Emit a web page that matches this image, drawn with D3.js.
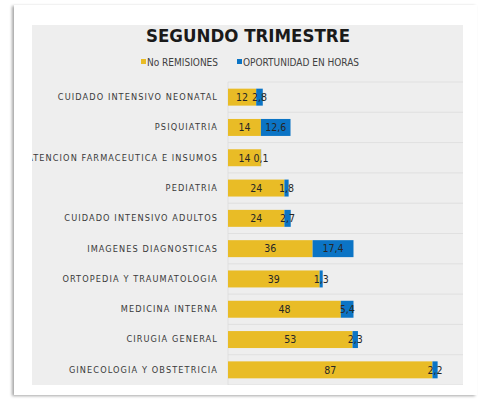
<!DOCTYPE html>
<html>
<head>
<meta charset="utf-8">
<script src="https://cdn.jsdelivr.net/npm/d3@7"></script>
<style>
  body { margin: 0; background: #fff; }
  svg { display: block; }
</style>
</head>
<body>
<svg id="chart" width="480" height="400"></svg>
<script>
// categories top to bottom
const categories = [
  "CUIDADO INTENSIVO NEONATAL",
  "PSIQUIATRIA",
  "ATENCION FARMACEUTICA E INSUMOS",
  "PEDIATRIA",
  "CUIDADO INTENSIVO ADULTOS",
  "IMAGENES DIAGNOSTICAS",
  "ORTOPEDIA Y TRAUMATOLOGIA",
  "MEDICINA INTERNA",
  "CIRUGIA GENERAL",
  "GINECOLOGIA Y OBSTETRICIA"
]
const remisiones = [12, 14, 14, 24, 24, 36, 39, 48, 53, 87]
const oportunidad = [2.8, 12.6, 0.1, 1.8, 2.7, 17.4, 1.3, 5.4, 2.3, 2.2]
const seriesNames = ["No REMISIONES", "OPORTUNIDAD EN HORAS"]
const colors = ["#E9BC26", "#0B74C5"]

const svg = d3.select("#chart")
const font = "DejaVu Sans, Verdana, sans-serif"
const condensed = "DejaVu Sans Condensed, DejaVu Sans, sans-serif"

// card with soft shadow
const defs = svg.append("defs")
const f = defs.append("filter").attr("id", "shadow")
  .attr("x", "-5%").attr("y", "-5%").attr("width", "110%").attr("height", "110%")
f.append("feDropShadow").attr("dx", -2).attr("dy", 1).attr("stdDeviation", 1.6)
  .attr("flood-color", "#000").attr("flood-opacity", 0.35)

svg.append("rect")
  .attr("x", 14).attr("y", 5).attr("width", 463).attr("height", 390)
  .attr("fill", "#fff").attr("filter", "url(#shadow)")

// grey chart area
const area = {x: 32, y: 25, w: 431, h: 360}
svg.append("rect")
  .attr("x", area.x).attr("y", area.y).attr("width", area.w).attr("height", area.h)
  .attr("fill", "#EEEEEE")

defs.append("clipPath").attr("id", "areaClip")
  .append("rect")
  .attr("x", area.x).attr("y", area.y).attr("width", area.w).attr("height", area.h)

const g = svg.append("g").attr("clip-path", "url(#areaClip)")

// title
g.append("text")
  .attr("x", 248).attr("y", 42)
  .attr("text-anchor", "middle")
  .attr("font-family", condensed).attr("font-weight", "bold")
  .attr("font-size", 18.5)
  .attr("fill", "#1a1a1a")
  .text("SEGUNDO TRIMESTRE")

// legend
const legendX = [141, 237]
const leg = g.selectAll("g.leg").data(seriesNames).join("g")
  .attr("class", "leg")
  .attr("transform", (d, i) => `translate(${legendX[i]},62)`)
leg.append("rect")
  .attr("x", 0).attr("y", -3).attr("width", 5).attr("height", 5)
  .attr("fill", (d, i) => colors[i])
leg.append("text")
  .attr("x", 6).attr("y", 0).attr("dy", "0.35em")
  .attr("font-family", condensed).attr("font-size", 10)
  .attr("fill", "#404040")
  .text(d => d)

// scales
const x = d3.scaleLinear().domain([0, 100]).range([228, 463])
const y = d3.scaleBand().domain(categories).range([82, 385]).paddingInner(0.44).paddingOuter(0.22)

// gridlines between categories
const rowH = 303 / categories.length
g.selectAll("line.grid").data(d3.range(categories.length + 1)).join("line")
  .attr("x1", 228).attr("x2", 463)
  .attr("y1", i => 82 + i * rowH)
  .attr("y2", i => 82 + i * rowH)
  .attr("stroke", "#dcdcdc").attr("stroke-width", 0.8)
g.append("line")
  .attr("x1", 228).attr("x2", 228).attr("y1", 82).attr("y2", 385)
  .attr("stroke", "#dcdcdc").attr("stroke-width", 0.8)

// category labels
g.selectAll("text.cat").data(categories).join("text")
  .attr("class", "cat")
  .attr("x", 218)
  .attr("y", d => y(d) + y.bandwidth() / 2)
  .attr("dy", "0.35em")
  .attr("text-anchor", "end")
  .attr("font-family", font).attr("font-size", 8.2)
  .attr("letter-spacing", 1.1)
  .attr("fill", "#3a3a3a")
  .text(d => d)

// stacked bars
const rows = categories.map((c, i) => ({cat: c, a: remisiones[i], b: oportunidad[i]}))

g.selectAll("rect.a").data(rows).join("rect")
  .attr("x", x(0))
  .attr("y", d => y(d.cat))
  .attr("width", d => x(d.a) - x(0))
  .attr("height", y.bandwidth())
  .attr("fill", colors[0])

g.selectAll("rect.b").data(rows).join("rect")
  .attr("x", d => x(d.a))
  .attr("y", d => y(d.cat))
  .attr("width", d => x(d.a + d.b) - x(d.a))
  .attr("height", y.bandwidth())
  .attr("fill", colors[1])

const fmt = v => String(v).replace(".", ",")

g.selectAll("text.va").data(rows).join("text")
  .attr("x", d => (x(0) + x(d.a)) / 2)
  .attr("y", d => y(d.cat) + y.bandwidth() / 2)
  .attr("dy", "0.36em")
  .attr("text-anchor", "middle")
  .attr("font-family", condensed).attr("font-size", 10.5)
  .attr("fill", "#262626")
  .text(d => d.a)

g.selectAll("text.vb").data(rows).join("text")
  .attr("x", d => (x(d.a) + x(d.a + d.b)) / 2)
  .attr("y", d => y(d.cat) + y.bandwidth() / 2)
  .attr("dy", "0.36em")
  .attr("text-anchor", "middle")
  .attr("font-family", condensed).attr("font-size", 10.5)
  .attr("fill", "#262626")
  .text(d => fmt(d.b))
</script>
</body>
</html>
